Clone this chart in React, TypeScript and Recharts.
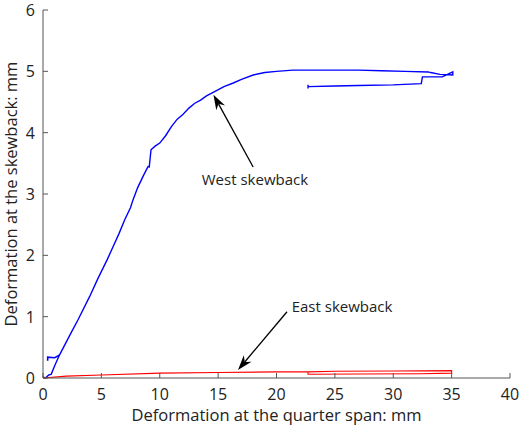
import {
  LineChart,
  Line,
  XAxis,
  YAxis,
  ReferenceLine,
  ReferenceDot,
} from "recharts";

const xTicks = [0, 5, 10, 15, 20, 25, 30, 35, 40];
const yTicks = [0, 1, 2, 3, 4, 5, 6];

// west skewback, traced in drawing order (loading then unloading branch)
const westX = [
  0, 0.2, 0.5, 0.7, 1.0, 1.4, 2.3, 3.0, 4.0, 4.7, 5.5, 6.0, 6.5, 7.0, 7.5,
  7.7, 8.1, 8.6, 9.0, 9.1, 9.25, 9.6, 10.0, 10.5, 11.0, 11.5, 12.0, 12.5, 13.0,
  13.5, 14.0, 14.7, 15.5, 16.3, 17.0, 18.0, 19.0, 20.0, 21.4, 23, 25, 27, 29,
  31, 33, 33.2, 34, 35.1, 35.1, 34.2, 32.5, 32.4, 30, 27, 25, 22.7, 22.7, 22.7,
];
const westY = [
  0.02, 0.0, 0.05, 0.06, 0.2, 0.37, 0.7, 0.95, 1.33, 1.62, 1.93, 2.14, 2.35,
  2.58, 2.78, 2.9, 3.1, 3.3, 3.45, 3.44, 3.72, 3.78, 3.83, 3.95, 4.1, 4.22,
  4.3, 4.4, 4.48, 4.53, 4.6, 4.67, 4.75, 4.81, 4.87, 4.94, 4.98, 5.0, 5.02,
  5.02, 5.02, 5.02, 5.01, 5.0, 4.99, 4.98, 4.95, 4.94, 4.99, 4.91, 4.91, 4.8,
  4.78, 4.77, 4.76, 4.75, 4.72, 4.78,
];

// short spur near the origin
const spurX = [0.4, 0.4, 1.0, 1.4];
const spurY = [0.28, 0.34, 0.33, 0.37];

const eastX = [0, 2, 5, 10, 15, 20, 22.7, 25, 30, 35, 35, 32.4, 27, 22.7, 22.7];
const eastY = [
  0, 0.03, 0.05, 0.08, 0.09, 0.1, 0.1, 0.11, 0.115, 0.12, 0.08, 0.07, 0.065,
  0.06, 0.1,
];

const westData = westX.map((x, i) => ({ x, y: westY[i] }));
const spurData = spurX.map((x, i) => ({ x, y: spurY[i] }));
const eastData = eastX.map((x, i) => ({ x, y: eastY[i] }));

const FONT = "'Open Sans', 'Noto Sans', sans-serif";
const AXIS = "#555";

function XTick(props: any) {
  const { x, y, payload } = props;
  const axisY = y - 10;
  return (
    <g>
      <line x1={x} y1={axisY} x2={x} y2={axisY - 5} stroke={AXIS} />
      <text x={x} y={y + 12} textAnchor="middle" fontSize={16} fill="#222" fontFamily={FONT}>
        {payload.value}
      </text>
    </g>
  );
}

function YTick(props: any) {
  const { x, y, payload } = props;
  const axisX = x + 8;
  return (
    <g>
      <line x1={axisX} y1={y} x2={axisX + 5} y2={y} stroke={AXIS} />
      <text x={x} y={y + 6} textAnchor="end" fontSize={16} fill="#222" fontFamily={FONT}>
        {payload.value}
      </text>
    </g>
  );
}

function Arrow(props: any) {
  const { x1, y1, x2, y2 } = props;
  // x2,y2 is the tip
  const dx = x2 - x1;
  const dy = y2 - y1;
  const len = Math.sqrt(dx * dx + dy * dy) || 1;
  const ux = dx / len;
  const uy = dy / len;
  const px = -uy;
  const py = ux;
  const L = 15;
  const W = 5;
  const bx = x2 - ux * L;
  const by = y2 - uy * L;
  const nx = x2 - ux * L * 0.7;
  const ny = y2 - uy * L * 0.7;
  const pts = [
    `${x2},${y2}`,
    `${bx + px * W},${by + py * W}`,
    `${nx},${ny}`,
    `${bx - px * W},${by - py * W}`,
  ].join(" ");
  return (
    <g>
      <line x1={x1} y1={y1} x2={nx} y2={ny} stroke="#000" strokeWidth={1.3} />
      <polygon points={pts} fill="#000" />
    </g>
  );
}

export default function App() {
  return (
    <div style={{ position: "absolute", left: 0, top: 0, background: "#fff" }}>
      <LineChart
        width={520}
        height={429}
        margin={{ top: 10, right: 10, bottom: 0, left: 0 }}
      >
        <XAxis
          type="number"
          dataKey="x"
          domain={[0, 40]}
          ticks={xTicks}
          tickSize={0}
          tickMargin={10}
          tick={<XTick />}
          height={51}
          stroke={AXIS}
          allowDataOverflow
          label={{
            value: "Deformation at the quarter span: mm",
            position: "insideBottom",
            offset: 8,
            fontSize: 16.5,
            fill: "#222",
            fontFamily: FONT,
          }}
        />
        <YAxis
          type="number"
          dataKey="y"
          domain={[0, 6]}
          ticks={yTicks}
          tickSize={0}
          tickMargin={8}
          tick={<YTick />}
          width={43}
          stroke={AXIS}
          label={{
            value: "Deformation at the skewback: mm",
            angle: -90,
            position: "insideLeft",
            offset: 11,
            style: { textAnchor: "middle" },
            fontSize: 16.5,
            fill: "#222",
            fontFamily: FONT,
          }}
        />
        <Line
          data={westData}
          dataKey="y"
          stroke="#0000ff"
          strokeWidth={1.4}
          dot={false}
          type="linear"
          isAnimationActive={false}
        />
        <Line
          data={spurData}
          dataKey="y"
          stroke="#0000ff"
          strokeWidth={1.6}
          dot={false}
          type="linear"
          isAnimationActive={false}
        />
        <Line
          data={eastData}
          dataKey="y"
          stroke="#ff0000"
          strokeWidth={1.1}
          dot={false}
          type="linear"
          isAnimationActive={false}
        />
        <ReferenceLine
          segment={[
            { x: 18.0, y: 3.44 },
            { x: 14.6, y: 4.62 },
          ]}
          shape={<Arrow />}
        />
        <ReferenceLine
          segment={[
            { x: 20.9, y: 1.08 },
            { x: 16.7, y: 0.13 },
          ]}
          shape={<Arrow />}
        />
        <ReferenceDot
          x={13.6}
          y={3.24}
          r={0}
          fill="none"
          stroke="none"
          label={{
            value: "West skewback",
            position: "right",
            offset: 0,
            fontSize: 15,
            fill: "#222",
            fontFamily: FONT,
          }}
        />
        <ReferenceDot
          x={21.3}
          y={1.16}
          r={0}
          fill="none"
          stroke="none"
          label={{
            value: "East skewback",
            position: "right",
            offset: 0,
            fontSize: 15,
            fill: "#222",
            fontFamily: FONT,
          }}
        />
      </LineChart>
    </div>
  );
}
